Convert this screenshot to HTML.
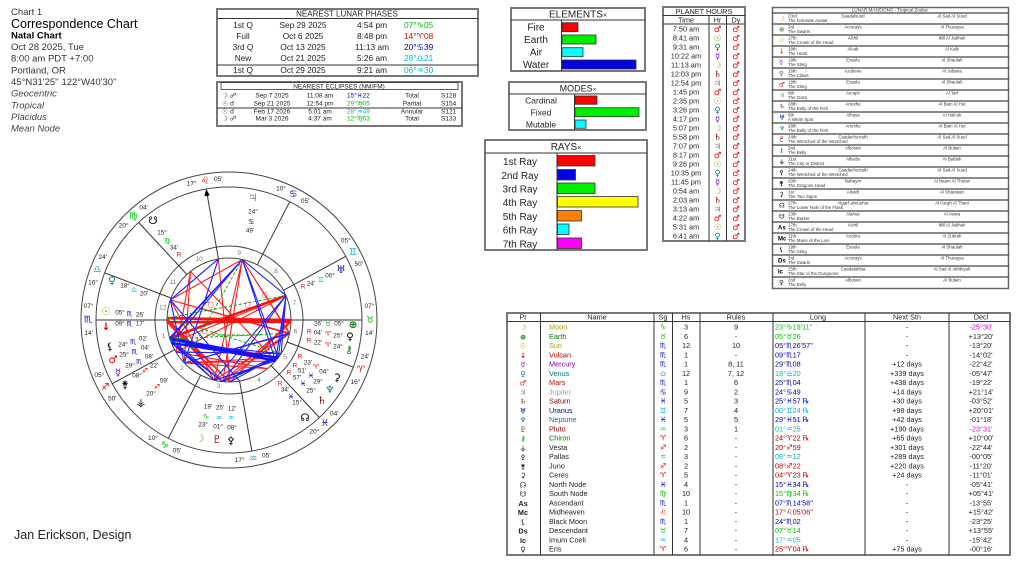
<!DOCTYPE html>
<html><head><meta charset="utf-8"><style>
html,body{margin:0;padding:0;background:#fff;}
svg{display:block;}
.g{font-family:"DejaVu Sans",sans-serif;}
</style></head><body>
<svg width="1024" height="562" viewBox="0 0 1024 562" xmlns="http://www.w3.org/2000/svg" font-family="Liberation Sans, DejaVu Sans, sans-serif">
<rect width="1024" height="562" fill="#fff"/>

<!-- Header -->
<g fill="#333" font-size="9.5">
<text x="11" y="15">Chart 1</text>
<text x="11" y="28" font-size="12.5" fill="#000">Correspondence Chart</text>
<text x="11" y="38.5" font-weight="bold" fill="#000">Natal Chart</text>
<text x="11" y="50">Oct 28 2025, Tue</text>
<text x="11" y="61.6">8:00 am  PDT +7:00</text>
<text x="11" y="73.3">Portland, OR</text>
<text x="11" y="85">45°N31'25'' 122°W40'30''</text>
<g font-style="italic" fill="#444">
<text x="11" y="96.3">Geocentric</text>
<text x="11" y="108.3">Tropical</text>
<text x="11" y="119.8">Placidus</text>
<text x="11" y="131.3">Mean Node</text>
</g>
</g>
<text x="14" y="539" font-size="12.5" fill="#222">Jan Erickson, Design</text>

<!-- Lunar phases -->
<rect x="217" y="9" width="261" height="67" fill="none" stroke="#777" stroke-width="2"/>
<line x1="217" y1="18.5" x2="478" y2="18.5" stroke="#333"/>
<line x1="217" y1="65" x2="478" y2="65" stroke="#333"/>
<text x="347" y="16.5" font-size="8" text-anchor="middle" fill="#222">NEAREST LUNAR PHASES</text>
<g font-size="8.3" fill="#222">
<g text-anchor="middle">
<text x="243" y="28">1st Q</text><text x="303" y="28">Sep 29 2025</text><text x="372" y="28">4:54 pm</text>
<text x="243" y="39">Full</text><text x="303" y="39">Oct 6 2025</text><text x="372" y="39">8:48 pm</text>
<text x="243" y="50">3rd Q</text><text x="303" y="50">Oct 13 2025</text><text x="372" y="50">11:13 am</text>
<text x="243" y="61">New</text><text x="303" y="61">Oct 21 2025</text><text x="372" y="61">5:26 am</text>
<text x="243" y="73">1st Q</text><text x="303" y="73">Oct 29 2025</text><text x="372" y="73">9:21 am</text>
</g>
<text x="404" y="28" fill="#00c000">07°♑05</text>
<text x="404" y="39" fill="#e00000">14°♈08</text>
<text x="404" y="50" fill="#0000c0">20°♋39</text>
<text x="404" y="61" fill="#00b8c8">28°♎21</text>
<text x="404" y="73" fill="#00b8c8">06°♒30</text>
</g>

<!-- Eclipses -->
<rect x="217" y="82" width="245" height="44" fill="none" stroke="#777" stroke-width="2"/>
<rect x="221" y="82.5" width="237" height="7" fill="none" stroke="#333" stroke-width="0.8"/>
<line x1="217" y1="108" x2="462" y2="108" stroke="#333"/>
<text x="339" y="88.5" font-size="6.5" text-anchor="middle" fill="#222">NEAREST ECLIPSES (NM/FM)</text>
<g font-size="6.5" fill="#222">
<g class="g" font-size="6.5"><text x="222" y="97.3">☽ ☍</text><text x="222" y="105.3">☉ ☌</text><text x="222" y="113.3">☉ ☌</text><text x="222" y="120.3">☽ ☍</text></g>
<g text-anchor="middle">
<text x="272" y="97.3">Sep 7 2025</text><text x="320" y="97.3">11:08 am</text><text x="412" y="97.3">Total</text>
<text x="272" y="105.3">Sep 21 2025</text><text x="320" y="105.3">12:54 pm</text><text x="412" y="105.3">Partial</text>
<text x="272" y="113.3">Feb 17 2026</text><text x="320" y="113.3">5:01 am</text><text x="412" y="113.3">Annular</text>
<text x="272" y="120.3">Mar 3 2026</text><text x="320" y="120.3">4:37 am</text><text x="412" y="120.3">Total</text>
</g>
<text x="347" y="97.3" fill="#0000c0">15°♓22</text>
<text x="347" y="105.3" fill="#00c000">29°♍05</text>
<text x="347" y="113.3" fill="#00b8c8">28°♒49</text>
<text x="347" y="120.3" fill="#00c000">12°♍53</text>
<text x="441" y="97.3">S128</text><text x="441" y="105.3">S154</text><text x="441" y="113.3">S121</text><text x="441" y="120.3">S133</text>
</g>

<!-- Elements -->
<rect x="511" y="8" width="134" height="63" fill="none" stroke="#777" stroke-width="2"/>
<line x1="511" y1="20" x2="645" y2="20" stroke="#333"/>
<line x1="561.5" y1="20" x2="561.5" y2="71" stroke="#333"/>
<text x="578" y="17.5" font-size="10" text-anchor="middle" fill="#222">ELEMENTS<tspan font-size="7">×</tspan></text>
<g font-size="10" fill="#222" text-anchor="middle">
<text x="536" y="30.5">Fire</text><text x="536" y="43">Earth</text><text x="536" y="55.5">Air</text><text x="536" y="68">Water</text>
</g>
<g stroke="#333" stroke-width="0.8">
<rect x="562" y="22.7" width="16" height="9" fill="#ff0000"/>
<rect x="562" y="35" width="34" height="9" fill="#00ee00"/>
<rect x="562" y="47.7" width="21" height="9" fill="#00ffff"/>
<rect x="562" y="60" width="74" height="9" fill="#0000e0"/>
</g>

<!-- Modes -->
<rect x="509" y="82" width="137" height="48" fill="none" stroke="#777" stroke-width="2"/>
<line x1="509" y1="94" x2="646" y2="94" stroke="#333"/>
<line x1="574.5" y1="94" x2="574.5" y2="130" stroke="#333"/>
<text x="578" y="91.5" font-size="9" text-anchor="middle" fill="#222">MODES<tspan font-size="6.5">×</tspan></text>
<g font-size="8.5" fill="#222" text-anchor="middle">
<text x="541" y="103.5">Cardinal</text><text x="541" y="115.5">Fixed</text><text x="541" y="127.3">Mutable</text>
</g>
<g stroke="#333" stroke-width="0.8">
<rect x="575" y="96" width="22" height="8.3" fill="#ff0000"/>
<rect x="575" y="107.7" width="64" height="9" fill="#00ee00"/>
<rect x="575" y="120" width="11" height="8.3" fill="#00ffff"/>
</g>

<!-- Rays -->
<rect x="485" y="140" width="162" height="110" fill="none" stroke="#777" stroke-width="2"/>
<line x1="485" y1="153" x2="647" y2="153" stroke="#333"/>
<line x1="557" y1="153" x2="557" y2="250" stroke="#333"/>
<text x="566" y="150" font-size="10" text-anchor="middle" fill="#222">RAYS<tspan font-size="7">×</tspan></text>
<g font-size="10" fill="#222" text-anchor="middle">
<text x="520" y="165">1st Ray</text><text x="520" y="179">2nd Ray</text><text x="520" y="192.5">3rd Ray</text>
<text x="520" y="206">4th Ray</text><text x="520" y="220">5th Ray</text><text x="520" y="233.5">6th Ray</text><text x="520" y="247.3">7th Ray</text>
</g>
<g stroke="#333" stroke-width="0.8">
<rect x="557.5" y="155.5" width="37.5" height="10.5" fill="#ff0000"/>
<rect x="557.5" y="169.5" width="18" height="10.5" fill="#0000e0"/>
<rect x="557.5" y="183" width="37.5" height="10.5" fill="#00ee00"/>
<rect x="557.5" y="196.5" width="80.5" height="10.5" fill="#ffff00"/>
<rect x="557.5" y="210.5" width="24" height="10.5" fill="#ff8000"/>
<rect x="557.5" y="224" width="11.5" height="10.5" fill="#00ffff"/>
<rect x="557.5" y="238" width="24" height="10.5" fill="#ff00ff"/>
</g>

<!-- Planet hours -->
<rect x="663" y="7" width="82" height="234" fill="none" stroke="#777" stroke-width="2"/>
<line x1="663" y1="15.5" x2="745" y2="15.5" stroke="#333"/>
<line x1="663" y1="24" x2="745" y2="24" stroke="#333"/>
<line x1="709" y1="15.5" x2="709" y2="241" stroke="#333"/>
<line x1="726.5" y1="15.5" x2="726.5" y2="241" stroke="#333"/>
<text x="704" y="13.8" font-size="7.3" text-anchor="middle" fill="#222">PLANET HOURS</text>
<g font-size="7.3" fill="#222" text-anchor="middle">
<text x="686" y="22.3">Time</text><text x="717.5" y="22.3">Hr</text><text x="736" y="22.3">Dy</text>
</g>
<g font-size="7.3" fill="#222" text-anchor="middle">
<text x="686" y="31.7">7:50 am</text><text x="686" y="40.7">8:41 am</text><text x="686" y="49.7">9:31 am</text>
<text x="686" y="58.7">10:22 am</text><text x="686" y="67.7">11:13 am</text><text x="686" y="76.7">12:03 pm</text>
<text x="686" y="85.7">12:54 pm</text><text x="686" y="94.7">1:45 pm</text><text x="686" y="103.7">2:35 pm</text>
<text x="686" y="112.7">3:26 pm</text><text x="686" y="121.7">4:17 pm</text><text x="686" y="130.7">5:07 pm</text>
<text x="686" y="139.7">5:58 pm</text><text x="686" y="148.7">7:07 pm</text><text x="686" y="157.7">8:17 pm</text>
<text x="686" y="166.7">9:26 pm</text><text x="686" y="175.7">10:35 pm</text><text x="686" y="184.7">11:45 pm</text>
<text x="686" y="193.7">0:54 am</text><text x="686" y="202.7">2:03 am</text><text x="686" y="211.7">3:13 am</text>
<text x="686" y="220.7">4:22 am</text><text x="686" y="229.7">5:31 am</text><text x="686" y="238.7">6:41 am</text>
</g>
<g class="g" font-size="8.5" text-anchor="middle" font-weight="bold">
<text x="717.5" y="32" fill="#e00000">♂</text><text x="717.5" y="41" fill="#a8a000">☉</text><text x="717.5" y="50" fill="#008080">♀</text>
<text x="717.5" y="59" fill="#8000c0">☿</text><text x="717.5" y="68" fill="#a8a000">☽</text><text x="717.5" y="77" fill="#800000">♄</text>
<text x="717.5" y="86" fill="#888">♃</text><text x="717.5" y="95" fill="#e00000">♂</text><text x="717.5" y="104" fill="#a8a000">☉</text>
<text x="717.5" y="113" fill="#008080">♀</text><text x="717.5" y="122" fill="#8000c0">☿</text><text x="717.5" y="131" fill="#a8a000">☽</text>
<text x="717.5" y="140" fill="#800000">♄</text><text x="717.5" y="149" fill="#888">♃</text><text x="717.5" y="158" fill="#e00000">♂</text>
<text x="717.5" y="167" fill="#a8a000">☉</text><text x="717.5" y="176" fill="#008080">♀</text><text x="717.5" y="185" fill="#8000c0">☿</text>
<text x="717.5" y="194" fill="#a8a000">☽</text><text x="717.5" y="203" fill="#800000">♄</text><text x="717.5" y="212" fill="#888">♃</text>
<text x="717.5" y="221" fill="#e00000">♂</text><text x="717.5" y="230" fill="#a8a000">☉</text><text x="717.5" y="239" fill="#008080">♀</text>
</g>
<g class="g" font-size="8.5" text-anchor="middle" fill="#e00000" font-weight="bold">
<text x="736" y="32">♂</text><text x="736" y="41">♂</text><text x="736" y="50">♂</text><text x="736" y="59">♂</text>
<text x="736" y="68">♂</text><text x="736" y="77">♂</text><text x="736" y="86">♂</text><text x="736" y="95">♂</text>
<text x="736" y="104">♂</text><text x="736" y="113">♂</text><text x="736" y="122">♂</text><text x="736" y="131">♂</text>
<text x="736" y="140">♂</text><text x="736" y="149">♂</text><text x="736" y="158">♂</text><text x="736" y="167">♂</text>
<text x="736" y="176">♂</text><text x="736" y="185">♂</text><text x="736" y="194">♂</text><text x="736" y="203">♂</text>
<text x="736" y="212">♂</text><text x="736" y="221">♂</text><text x="736" y="230">♂</text><text x="736" y="239">♂</text>
</g>

<!-- Lunar mansions -->
<rect x="772.5" y="7.5" width="236" height="281" fill="none" stroke="#666" stroke-width="1.5"/>
<line x1="772" y1="13" x2="1009" y2="13" stroke="#444" stroke-width="1.2"/>
<text x="890" y="11.7" font-size="4.6" text-anchor="middle" fill="#333">LUNAR MANSIONS - Tropical Zodiac</text>
<g font-size="4.4" fill="#333">
<g transform="translate(0,13)"><text class="g" x="779" y="7.5" font-size="6.5" fill="#a8a000">☽</text><text x="788" y="4.6">23rd</text><text x="853" y="4.6" text-anchor="middle">Saadalsuud</text><text x="952" y="4.6" text-anchor="middle">Al Sad Al Suud</text><text x="788" y="9.2">The fortunate Avatar</text></g>
<g transform="translate(0,24)"><text class="g" x="779" y="7.5" font-size="6.5" fill="#008000">⊕</text><text x="788" y="4.6">3rd</text><text x="853" y="4.6" text-anchor="middle">Acrorays</text><text x="952" y="4.6" text-anchor="middle">Al Thurayya</text><text x="788" y="9.2">The Swarm</text></g>
<g transform="translate(0,35)"><text class="g" x="779" y="7.5" font-size="6.5" fill="#a8a000">☉</text><text x="788" y="4.6">17th</text><text x="853" y="4.6" text-anchor="middle">Alchil</text><text x="952" y="4.6" text-anchor="middle">Iklil Al Jabhah</text><text x="788" y="9.2">The Crown of the Head</text></g>
<g transform="translate(0,46)"><text class="g" x="779" y="7.5" font-size="6.5" fill="#e00000">↓</text><text x="788" y="4.6">18th</text><text x="853" y="4.6" text-anchor="middle">Alcab</text><text x="952" y="4.6" text-anchor="middle">Al Kalb</text><text x="788" y="9.2">The Heart</text></g>
<g transform="translate(0,57)"><text class="g" x="779" y="7.5" font-size="6.5" fill="#8000c0">☿</text><text x="788" y="4.6">19th</text><text x="853" y="4.6" text-anchor="middle">Exaula</text><text x="952" y="4.6" text-anchor="middle">Al Shaulah</text><text x="788" y="9.2">The Sting</text></g>
<g transform="translate(0,68)"><text class="g" x="779" y="7.5" font-size="6.5" fill="#008080">♀</text><text x="788" y="4.6">16th</text><text x="853" y="4.6" text-anchor="middle">Azubene</text><text x="952" y="4.6" text-anchor="middle">Al Jubana</text><text x="788" y="9.2">The Claws</text></g>
<g transform="translate(0,79)"><text class="g" x="779" y="7.5" font-size="6.5" fill="#e00000">♂</text><text x="788" y="4.6">19th</text><text x="853" y="4.6" text-anchor="middle">Exaula</text><text x="952" y="4.6" text-anchor="middle">Al Shaulah</text><text x="788" y="9.2">The Sting</text></g>
<g transform="translate(0,90)"><text class="g" x="779" y="7.5" font-size="6.5" fill="#888">♃</text><text x="788" y="4.6">9th</text><text x="853" y="4.6" text-anchor="middle">Arcaph</text><text x="952" y="4.6" text-anchor="middle">Al Tarf</text><text x="788" y="9.2">The Gaze</text></g>
<g transform="translate(0,101)"><text class="g" x="779" y="7.5" font-size="6.5" fill="#800000">♄</text><text x="788" y="4.6">28th</text><text x="853" y="4.6" text-anchor="middle">Arrexhe</text><text x="952" y="4.6" text-anchor="middle">Al Batn Al Hut</text><text x="788" y="9.2">The Belly of the Fish</text></g>
<g transform="translate(0,112)"><text class="g" x="779" y="7.5" font-size="6.5" fill="#0000a0">♅</text><text x="788" y="4.6">5th</text><text x="853" y="4.6" text-anchor="middle">Alhaya</text><text x="952" y="4.6" text-anchor="middle">Al Hak'ah</text><text x="788" y="9.2">A White Spot</text></g>
<g transform="translate(0,123)"><text class="g" x="779" y="7.5" font-size="6.5" fill="#008080">♆</text><text x="788" y="4.6">28th</text><text x="853" y="4.6" text-anchor="middle">Arrexhe</text><text x="952" y="4.6" text-anchor="middle">Al Batn Al Hut</text><text x="788" y="9.2">The Belly of the Fish</text></g>
<g transform="translate(0,134)"><text class="g" x="779" y="7.5" font-size="6.5" fill="#800000">♇</text><text x="788" y="4.6">24th</text><text x="853" y="4.6" text-anchor="middle">Caadachoziath</text><text x="952" y="4.6" text-anchor="middle">Al Sad Al Suud</text><text x="788" y="9.2">The Wretched of the Wretched</text></g>
<g transform="translate(0,145)"><text class="g" x="779" y="7.5" font-size="6.5" fill="#008000">⚷</text><text x="788" y="4.6">2nd</text><text x="853" y="4.6" text-anchor="middle">Albotain</text><text x="952" y="4.6" text-anchor="middle">Al Butain</text><text x="788" y="9.2">The Belly</text></g>
<g transform="translate(0,156)"><text class="g" x="779" y="7.5" font-size="6.5" fill="#000">⚶</text><text x="788" y="4.6">21st</text><text x="853" y="4.6" text-anchor="middle">Albeda</text><text x="952" y="4.6" text-anchor="middle">Al Baldah</text><text x="788" y="9.2">The City or District</text></g>
<g transform="translate(0,167)"><text class="g" x="779" y="7.5" font-size="6.5" fill="#000">⚴</text><text x="788" y="4.6">24th</text><text x="853" y="4.6" text-anchor="middle">Caadachoziath</text><text x="952" y="4.6" text-anchor="middle">Al Sad Al Suud</text><text x="788" y="9.2">The Wretched of the Wretched</text></g>
<g transform="translate(0,178)"><text class="g" x="779" y="7.5" font-size="6.5" fill="#000">⚵</text><text x="788" y="4.6">20th</text><text x="853" y="4.6" text-anchor="middle">Nahaym</text><text x="952" y="4.6" text-anchor="middle">Al Naam Al Thulan</text><text x="788" y="9.2">The Dragons Head</text></g>
<g transform="translate(0,189)"><text class="g" x="779" y="7.5" font-size="6.5" fill="#000">⚳</text><text x="788" y="4.6">1st</text><text x="853" y="4.6" text-anchor="middle">Alnath</text><text x="952" y="4.6" text-anchor="middle">Al Sharatain</text><text x="788" y="9.2">The Two Signs</text></g>
<g transform="translate(0,200)"><text class="g" x="779" y="7.5" font-size="6.5" fill="#000">☊</text><text x="788" y="4.6">27th</text><text x="853" y="4.6" text-anchor="middle">Algarf almuehar</text><text x="952" y="4.6" text-anchor="middle">Al Fargh Al Thani</text><text x="788" y="9.2">The Lower Hole of the Flask</text></g>
<g transform="translate(0,211)"><text class="g" x="779" y="7.5" font-size="6.5" fill="#000">☋</text><text x="788" y="4.6">13th</text><text x="853" y="4.6" text-anchor="middle">Alahue</text><text x="952" y="4.6" text-anchor="middle">Al Awwa</text><text x="788" y="9.2">The Barker</text></g>
<g transform="translate(0,222)"><text x="778" y="7.5" font-size="6" font-weight="bold" fill="#000">As</text><text x="788" y="4.6">17th</text><text x="853" y="4.6" text-anchor="middle">Alchil</text><text x="952" y="4.6" text-anchor="middle">Iklil Al Jabhah</text><text x="788" y="9.2">The Crown of the Head</text></g>
<g transform="translate(0,233)"><text x="778" y="7.5" font-size="6" font-weight="bold" fill="#000">Mc</text><text x="788" y="4.6">11th</text><text x="853" y="4.6" text-anchor="middle">Azobra</text><text x="952" y="4.6" text-anchor="middle">Al Zubrah</text><text x="788" y="9.2">The Mane of the Lion</text></g>
<g transform="translate(0,244)"><text class="g" x="779" y="7.5" font-size="6.5" fill="#000">⚸</text><text x="788" y="4.6">19th</text><text x="853" y="4.6" text-anchor="middle">Exaula</text><text x="952" y="4.6" text-anchor="middle">Al Shaulah</text><text x="788" y="9.2">The Sting</text></g>
<g transform="translate(0,255)"><text x="778" y="7.5" font-size="6" font-weight="bold" fill="#000">Ds</text><text x="788" y="4.6">3rd</text><text x="853" y="4.6" text-anchor="middle">Acrorays</text><text x="952" y="4.6" text-anchor="middle">Al Thurayya</text><text x="788" y="9.2">The Swarm</text></g>
<g transform="translate(0,266)"><text x="778" y="7.5" font-size="6" font-weight="bold" fill="#000">Ic</text><text x="788" y="4.6">25th</text><text x="853" y="4.6" text-anchor="middle">Caadalahbia</text><text x="952" y="4.6" text-anchor="middle">Al Sad Al Akhbiyah</text><text x="788" y="9.2">The Star of the Dungeons</text></g>
<g transform="translate(0,277)"><text class="g" x="779" y="7.5" font-size="6.5" fill="#000">♀</text><text x="788" y="4.6">2nd</text><text x="853" y="4.6" text-anchor="middle">Albotain</text><text x="952" y="4.6" text-anchor="middle">Al Butain</text><text x="788" y="9.2">The Belly</text></g>
</g>
<g stroke="#444" stroke-width="1.3">
<line x1="772" y1="24" x2="1009" y2="24"/><line x1="772" y1="35" x2="1009" y2="35"/><line x1="772" y1="46" x2="1009" y2="46"/>
<line x1="772" y1="57" x2="1009" y2="57"/><line x1="772" y1="68" x2="1009" y2="68"/><line x1="772" y1="79" x2="1009" y2="79"/>
<line x1="772" y1="90" x2="1009" y2="90"/><line x1="772" y1="101" x2="1009" y2="101"/><line x1="772" y1="112" x2="1009" y2="112"/>
<line x1="772" y1="123" x2="1009" y2="123"/><line x1="772" y1="134" x2="1009" y2="134"/><line x1="772" y1="145" x2="1009" y2="145"/>
<line x1="772" y1="156" x2="1009" y2="156"/><line x1="772" y1="167" x2="1009" y2="167"/><line x1="772" y1="178" x2="1009" y2="178"/>
<line x1="772" y1="189" x2="1009" y2="189"/><line x1="772" y1="200" x2="1009" y2="200"/><line x1="772" y1="211" x2="1009" y2="211"/>
<line x1="772" y1="222" x2="1009" y2="222"/><line x1="772" y1="233" x2="1009" y2="233"/><line x1="772" y1="244" x2="1009" y2="244"/>
<line x1="772" y1="255" x2="1009" y2="255"/><line x1="772" y1="266" x2="1009" y2="266"/><line x1="772" y1="277" x2="1009" y2="277"/>
</g>

<!-- Bottom table -->
<rect x="507" y="313" width="503" height="242" fill="none" stroke="#777" stroke-width="2"/>
<line x1="507" y1="321.5" x2="1010" y2="321.5" stroke="#333"/>
<g stroke="#333" stroke-width="1">
<line x1="540.5" y1="313" x2="540.5" y2="555"/><line x1="654" y1="313" x2="654" y2="555"/>
<line x1="672.5" y1="313" x2="672.5" y2="555"/><line x1="700" y1="313" x2="700" y2="555"/>
<line x1="773" y1="313" x2="773" y2="555"/><line x1="865" y1="313" x2="865" y2="555"/>
<line x1="949" y1="313" x2="949" y2="555"/>
</g>
<g font-size="7.3" fill="#222" text-anchor="middle">
<text x="523" y="319.5">Pr</text><text x="597" y="319.5">Name</text><text x="663" y="319.5">Sg</text><text x="686" y="319.5">Hs</text>
<text x="736" y="319.5">Rules</text><text x="818" y="319.5">Long</text><text x="907" y="319.5">Next Stn</text><text x="981" y="319.5">Decl</text>
</g>
<g font-size="7.3" fill="#222">
<g transform="translate(0,327)"><text class="g" x="523" y="3" text-anchor="middle" font-weight="bold" fill="#a8a000">☽</text><text x="549" y="2.7" fill="#a8a000">Moon</text><text class="g" x="663" y="2.7" text-anchor="middle" fill="#00c000">♑</text><text x="686" y="2.7" text-anchor="middle">3</text><text x="736" y="2.7" text-anchor="middle">9</text><text x="775" y="2.7" fill="#00c000">23°♑19'11"</text><text x="907" y="2.7" text-anchor="middle">-</text><text x="981" y="2.7" text-anchor="middle" fill="#e000e0">-25°30'</text></g>
<g transform="translate(0,336.25)"><text class="g" x="523" y="3" text-anchor="middle" font-weight="bold" fill="#008000">⊕</text><text x="549" y="2.7" fill="#008000">Earth</text><text class="g" x="663" y="2.7" text-anchor="middle" fill="#00c000">♉</text><text x="686" y="2.7" text-anchor="middle">6</text><text x="736" y="2.7" text-anchor="middle">-</text><text x="775" y="2.7" fill="#00c000">05°♉26</text><text x="907" y="2.7" text-anchor="middle">-</text><text x="981" y="2.7" text-anchor="middle">+13°20'</text></g>
<g transform="translate(0,345.5)"><text class="g" x="523" y="3" text-anchor="middle" font-weight="bold" fill="#a8a000">☉</text><text x="549" y="2.7" fill="#a8a000">Sun</text><text class="g" x="663" y="2.7" text-anchor="middle" fill="#0000c0">♏</text><text x="686" y="2.7" text-anchor="middle">12</text><text x="736" y="2.7" text-anchor="middle">10</text><text x="775" y="2.7" fill="#0000c0">05°♏26'57"</text><text x="907" y="2.7" text-anchor="middle">-</text><text x="981" y="2.7" text-anchor="middle">-13°20'</text></g>
<g transform="translate(0,354.75)"><text class="g" x="523" y="3" text-anchor="middle" font-weight="bold" fill="#e00000">↓</text><text x="549" y="2.7" fill="#c00000">Vulcan</text><text class="g" x="663" y="2.7" text-anchor="middle" fill="#0000c0">♏</text><text x="686" y="2.7" text-anchor="middle">1</text><text x="736" y="2.7" text-anchor="middle">-</text><text x="775" y="2.7" fill="#0000c0">09°♏17</text><text x="907" y="2.7" text-anchor="middle">-</text><text x="981" y="2.7" text-anchor="middle">-14°02'</text></g>
<g transform="translate(0,364)"><text class="g" x="523" y="3" text-anchor="middle" font-weight="bold" fill="#8000c0">☿</text><text x="549" y="2.7" fill="#8000c0">Mercury</text><text class="g" x="663" y="2.7" text-anchor="middle" fill="#0000c0">♏</text><text x="686" y="2.7" text-anchor="middle">1</text><text x="736" y="2.7" text-anchor="middle">8, 11</text><text x="775" y="2.7" fill="#0000c0">29°♏08</text><text x="907" y="2.7" text-anchor="middle">+12 days</text><text x="981" y="2.7" text-anchor="middle">-22°42'</text></g>
<g transform="translate(0,373.25)"><text class="g" x="523" y="3" text-anchor="middle" font-weight="bold" fill="#008080">♀</text><text x="549" y="2.7" fill="#008080">Venus</text><text class="g" x="663" y="2.7" text-anchor="middle" fill="#00b8c8">♎</text><text x="686" y="2.7" text-anchor="middle">12</text><text x="736" y="2.7" text-anchor="middle">7, 12</text><text x="775" y="2.7" fill="#00b8c8">18°♎20</text><text x="907" y="2.7" text-anchor="middle">+339 days</text><text x="981" y="2.7" text-anchor="middle">-05°47'</text></g>
<g transform="translate(0,382.5)"><text class="g" x="523" y="3" text-anchor="middle" font-weight="bold" fill="#e00000">♂</text><text x="549" y="2.7" fill="#c00000">Mars</text><text class="g" x="663" y="2.7" text-anchor="middle" fill="#0000c0">♏</text><text x="686" y="2.7" text-anchor="middle">1</text><text x="736" y="2.7" text-anchor="middle">6</text><text x="775" y="2.7" fill="#0000c0">25°♏04</text><text x="907" y="2.7" text-anchor="middle">+438 days</text><text x="981" y="2.7" text-anchor="middle">-19°22'</text></g>
<g transform="translate(0,391.75)"><text class="g" x="523" y="3" text-anchor="middle" font-weight="bold" fill="#888">♃</text><text x="549" y="2.7" fill="#999">Jupiter</text><text class="g" x="663" y="2.7" text-anchor="middle" fill="#0000c0">♋</text><text x="686" y="2.7" text-anchor="middle">9</text><text x="736" y="2.7" text-anchor="middle">2</text><text x="775" y="2.7" fill="#0000c0">24°♋49</text><text x="907" y="2.7" text-anchor="middle">+14 days</text><text x="981" y="2.7" text-anchor="middle">+21°14'</text></g>
<g transform="translate(0,401)"><text class="g" x="523" y="3" text-anchor="middle" font-weight="bold" fill="#800000">♄</text><text x="549" y="2.7" fill="#800000">Saturn</text><text class="g" x="663" y="2.7" text-anchor="middle" fill="#0000c0">♓</text><text x="686" y="2.7" text-anchor="middle">5</text><text x="736" y="2.7" text-anchor="middle">3</text><text x="775" y="2.7" fill="#0000c0">25°♓57 ℞</text><text x="907" y="2.7" text-anchor="middle">+30 days</text><text x="981" y="2.7" text-anchor="middle">-03°52'</text></g>
<g transform="translate(0,410.25)"><text class="g" x="523" y="3" text-anchor="middle" font-weight="bold" fill="#0000a0">♅</text><text x="549" y="2.7" fill="#0000a0">Uranus</text><text class="g" x="663" y="2.7" text-anchor="middle" fill="#00b8c8">♊</text><text x="686" y="2.7" text-anchor="middle">7</text><text x="736" y="2.7" text-anchor="middle">4</text><text x="775" y="2.7" fill="#00b8c8">00°♊24 ℞</text><text x="907" y="2.7" text-anchor="middle">+98 days</text><text x="981" y="2.7" text-anchor="middle">+20°01'</text></g>
<g transform="translate(0,419.5)"><text class="g" x="523" y="3" text-anchor="middle" font-weight="bold" fill="#008080">♆</text><text x="549" y="2.7" fill="#008080">Neptune</text><text class="g" x="663" y="2.7" text-anchor="middle" fill="#0000c0">♓</text><text x="686" y="2.7" text-anchor="middle">5</text><text x="736" y="2.7" text-anchor="middle">5</text><text x="775" y="2.7" fill="#0000c0">29°♓51 ℞</text><text x="907" y="2.7" text-anchor="middle">+42 days</text><text x="981" y="2.7" text-anchor="middle">-01°18'</text></g>
<g transform="translate(0,428.75)"><text class="g" x="523" y="3" text-anchor="middle" font-weight="bold" fill="#800000">♇</text><text x="549" y="2.7" fill="#800000">Pluto</text><text class="g" x="663" y="2.7" text-anchor="middle" fill="#00b8c8">♒</text><text x="686" y="2.7" text-anchor="middle">3</text><text x="736" y="2.7" text-anchor="middle">1</text><text x="775" y="2.7" fill="#00b8c8">01°♒25</text><text x="907" y="2.7" text-anchor="middle">+190 days</text><text x="981" y="2.7" text-anchor="middle" fill="#e000e0">-23°31'</text></g>
<g transform="translate(0,438)"><text class="g" x="523" y="3" text-anchor="middle" font-weight="bold" fill="#008000">⚷</text><text x="549" y="2.7" fill="#008000">Chiron</text><text class="g" x="663" y="2.7" text-anchor="middle" fill="#e00000">♈</text><text x="686" y="2.7" text-anchor="middle">6</text><text x="736" y="2.7" text-anchor="middle">-</text><text x="775" y="2.7" fill="#c00000">24°♈22 ℞</text><text x="907" y="2.7" text-anchor="middle">+65 days</text><text x="981" y="2.7" text-anchor="middle">+10°00'</text></g>
<g transform="translate(0,447.25)"><text class="g" x="523" y="3" text-anchor="middle" font-weight="bold">⚶</text><text x="549" y="2.7">Vesta</text><text class="g" x="663" y="2.7" text-anchor="middle" fill="#e00000">♐</text><text x="686" y="2.7" text-anchor="middle">2</text><text x="736" y="2.7" text-anchor="middle">-</text><text x="775" y="2.7" fill="#c00000">20°♐59</text><text x="907" y="2.7" text-anchor="middle">+301 days</text><text x="981" y="2.7" text-anchor="middle">-22°44'</text></g>
<g transform="translate(0,456.5)"><text class="g" x="523" y="3" text-anchor="middle" font-weight="bold">⚴</text><text x="549" y="2.7">Pallas</text><text class="g" x="663" y="2.7" text-anchor="middle" fill="#00b8c8">♒</text><text x="686" y="2.7" text-anchor="middle">3</text><text x="736" y="2.7" text-anchor="middle">-</text><text x="775" y="2.7" fill="#00b8c8">08°♒12</text><text x="907" y="2.7" text-anchor="middle">+289 days</text><text x="981" y="2.7" text-anchor="middle">-00°05'</text></g>
<g transform="translate(0,465.75)"><text class="g" x="523" y="3" text-anchor="middle" font-weight="bold">⚵</text><text x="549" y="2.7">Juno</text><text class="g" x="663" y="2.7" text-anchor="middle" fill="#e00000">♐</text><text x="686" y="2.7" text-anchor="middle">2</text><text x="736" y="2.7" text-anchor="middle">-</text><text x="775" y="2.7" fill="#c00000">08°♐22</text><text x="907" y="2.7" text-anchor="middle">+220 days</text><text x="981" y="2.7" text-anchor="middle">-11°20'</text></g>
<g transform="translate(0,475)"><text class="g" x="523" y="3" text-anchor="middle" font-weight="bold">⚳</text><text x="549" y="2.7">Ceres</text><text class="g" x="663" y="2.7" text-anchor="middle" fill="#e00000">♈</text><text x="686" y="2.7" text-anchor="middle">5</text><text x="736" y="2.7" text-anchor="middle">-</text><text x="775" y="2.7" fill="#c00000">04°♈23 ℞</text><text x="907" y="2.7" text-anchor="middle">+24 days</text><text x="981" y="2.7" text-anchor="middle">-11°01'</text></g>
<g transform="translate(0,484.25)"><text class="g" x="523" y="3" text-anchor="middle" font-weight="bold">☊</text><text x="549" y="2.7">North Node</text><text class="g" x="663" y="2.7" text-anchor="middle" fill="#0000c0">♓</text><text x="686" y="2.7" text-anchor="middle">4</text><text x="736" y="2.7" text-anchor="middle">-</text><text x="775" y="2.7" fill="#0000c0">15°♓34 ℞</text><text x="907" y="2.7" text-anchor="middle">-</text><text x="981" y="2.7" text-anchor="middle">-05°41'</text></g>
<g transform="translate(0,493.5)"><text class="g" x="523" y="3" text-anchor="middle" font-weight="bold">☋</text><text x="549" y="2.7">South Node</text><text class="g" x="663" y="2.7" text-anchor="middle" fill="#00c000">♍</text><text x="686" y="2.7" text-anchor="middle">10</text><text x="736" y="2.7" text-anchor="middle">-</text><text x="775" y="2.7" fill="#00c000">15°♍34 ℞</text><text x="907" y="2.7" text-anchor="middle">-</text><text x="981" y="2.7" text-anchor="middle">+05°41'</text></g>
<g transform="translate(0,502.75)"><text x="523" y="3" text-anchor="middle" font-weight="bold">As</text><text x="549" y="2.7">Ascendant</text><text class="g" x="663" y="2.7" text-anchor="middle" fill="#0000c0">♏</text><text x="686" y="2.7" text-anchor="middle">1</text><text x="736" y="2.7" text-anchor="middle">-</text><text x="775" y="2.7" fill="#0000c0">07°♏14'58"</text><text x="907" y="2.7" text-anchor="middle">-</text><text x="981" y="2.7" text-anchor="middle">-13°55'</text></g>
<g transform="translate(0,512)"><text x="523" y="3" text-anchor="middle" font-weight="bold">Mc</text><text x="549" y="2.7">Midheaven</text><text class="g" x="663" y="2.7" text-anchor="middle" fill="#e00000">♌</text><text x="686" y="2.7" text-anchor="middle">10</text><text x="736" y="2.7" text-anchor="middle">-</text><text x="775" y="2.7" fill="#c00000">17°♌05'06"</text><text x="907" y="2.7" text-anchor="middle">-</text><text x="981" y="2.7" text-anchor="middle">+15°42'</text></g>
<g transform="translate(0,521.25)"><text class="g" x="523" y="3" text-anchor="middle" font-weight="bold">⚸</text><text x="549" y="2.7">Black Moon</text><text class="g" x="663" y="2.7" text-anchor="middle" fill="#0000c0">♏</text><text x="686" y="2.7" text-anchor="middle">1</text><text x="736" y="2.7" text-anchor="middle">-</text><text x="775" y="2.7" fill="#0000c0">24°♏02</text><text x="907" y="2.7" text-anchor="middle">-</text><text x="981" y="2.7" text-anchor="middle">-23°25'</text></g>
<g transform="translate(0,530.5)"><text x="523" y="3" text-anchor="middle" font-weight="bold">Ds</text><text x="549" y="2.7">Descendant</text><text class="g" x="663" y="2.7" text-anchor="middle" fill="#00c000">♉</text><text x="686" y="2.7" text-anchor="middle">7</text><text x="736" y="2.7" text-anchor="middle">-</text><text x="775" y="2.7" fill="#00c000">07°♉14</text><text x="907" y="2.7" text-anchor="middle">-</text><text x="981" y="2.7" text-anchor="middle">+13°55'</text></g>
<g transform="translate(0,539.75)"><text x="523" y="3" text-anchor="middle" font-weight="bold">Ic</text><text x="549" y="2.7">Imum Coeli</text><text class="g" x="663" y="2.7" text-anchor="middle" fill="#00b8c8">♒</text><text x="686" y="2.7" text-anchor="middle">4</text><text x="736" y="2.7" text-anchor="middle">-</text><text x="775" y="2.7" fill="#00b8c8">17°♒05</text><text x="907" y="2.7" text-anchor="middle">-</text><text x="981" y="2.7" text-anchor="middle">-15°42'</text></g>
<g transform="translate(0,549)"><text class="g" x="523" y="3" text-anchor="middle" font-weight="bold">♀</text><text x="549" y="2.7">Eris</text><text class="g" x="663" y="2.7" text-anchor="middle" fill="#e00000">♈</text><text x="686" y="2.7" text-anchor="middle">6</text><text x="736" y="2.7" text-anchor="middle">-</text><text x="775" y="2.7" fill="#c00000">25°♈04 ℞</text><text x="907" y="2.7" text-anchor="middle">+75 days</text><text x="981" y="2.7" text-anchor="middle">-00°16'</text></g>
</g>

<!-- ================= WHEEL ================= -->
<g fill="none" stroke="#444" stroke-width="1">
<circle cx="229" cy="320" r="148"/>
<circle cx="229" cy="320" r="133"/>
<circle cx="229" cy="320" r="74"/>
<circle cx="229" cy="320" r="62"/>
</g>
<g stroke="#333" stroke-width="1">
<line x1="167" y1="320" x2="96" y2="320"/>
<line x1="174.6" y1="349.7" x2="112.2" y2="383.7"/>
<line x1="200.7" y1="375.2" x2="168.3" y2="438.3"/>
<line x1="239.6" y1="381.1" x2="251.8" y2="451"/>
<line x1="271.1" y1="365.5" x2="319.4" y2="417.6"/>
<line x1="287" y1="342" x2="353.3" y2="367.2"/>
<line x1="291" y1="320" x2="362" y2="320"/>
<line x1="283.4" y1="290.3" x2="345.8" y2="256.3"/>
<line x1="257.3" y1="264.8" x2="289.7" y2="201.7"/>
<line x1="218.4" y1="258.9" x2="207" y2="193.5"/>
<line x1="186.9" y1="274.5" x2="138.6" y2="222.4"/>
<line x1="171" y1="298" x2="104.7" y2="272.8"/>
</g>
<polygon points="206.2,188.9 209.7,195.4 204.4,196.2" fill="#000"/>

<g font-size="6.5" fill="#777" text-anchor="middle" dominant-baseline="central">
<text x="163.6" y="336.7">1</text><text x="181.9" y="368.3">2</text><text x="218.8" y="386.7">3</text>
<text x="258.9" y="380.5">4</text><text x="285" y="357.7">5</text><text x="295.4" y="332.2">6</text>
<text x="294.4" y="303.3">7</text><text x="276.1" y="271.7">8</text><text x="239.2" y="253.3">9</text>
<text x="199.1" y="259.5">10</text><text x="173" y="282.3">11</text><text x="162.6" y="307.8">12</text>
</g>

<g font-size="6.5" fill="#222" text-anchor="middle" dominant-baseline="central">
<text x="88.6" y="306.5">07°</text><text x="88.6" y="333.5">14'</text>
<text x="99.3" y="375.3">05°</text><text x="112.2" y="399">50'</text>
<text x="152.9" y="438.7">10°</text><text x="177" y="451.1">05'</text>
<text x="239.7" y="460.6">17°</text><text x="266.3" y="456">05'</text>
<text x="314.4" y="432.2">20°</text><text x="334.3" y="413.8">04'</text>
<text x="355.4" y="382.5">16°</text><text x="365" y="357.2">24'</text>
<text x="369.4" y="306.5">07°</text><text x="369.4" y="333.5">14'</text>
<text x="345.8" y="241">05°</text><text x="358.7" y="264.7">50'</text>
<text x="281" y="188.9">10°</text><text x="305.1" y="201.3">05'</text>
<text x="191.7" y="184">17°</text><text x="218.3" y="179.4">05'</text>
<text x="123.7" y="226.2">20°</text><text x="143.6" y="207.8">04'</text>
<text x="93" y="282.8">16°</text><text x="102.6" y="257.5">24'</text>
</g>
<g class="g" font-size="9.5" text-anchor="middle" dominant-baseline="central">
<text x="88" y="320" fill="#0000c0">♏</text>
<text x="105.2" y="387.5" fill="#e00000">♐</text>
<text x="164.7" y="445.5" fill="#00c000">♑</text>
<text x="253.1" y="458.9" fill="#00b8c8">♒</text>
<text x="324.8" y="423.5" fill="#0000c0">♓</text>
<text x="360.8" y="370.1" fill="#e00000">♈</text>
<text x="370" y="320" fill="#00c000">♉</text>
<text x="352.8" y="252.5" fill="#00b8c8">♊</text>
<text x="293.3" y="194.5" fill="#0000c0">♋</text>
<text x="204.9" y="181.1" fill="#e00000">♌</text>
<text x="133.2" y="216.5" fill="#00c000">♍</text>
<text x="97.2" y="269.9" fill="#00b8c8">♎</text>
</g>

<g fill="none">
<path stroke="#ff2020" stroke-width="1.1" d="M242.3 259.5L214.1 380.2M242.3 259.5L222.7 381.7M242.3 259.5L170.3 299.9M242.3 259.5L289.4 333.8M242.3 259.5L289.6 333.1M286 295.6L171.5 343.1M286 295.6L170 339M286 295.6L175.9 352.1M167 318.1L222.7 381.7M167 318.1L230 382M167 322.2L230 382M167 322.2L222.7 381.7M170.3 299.9L214.1 380.2M170.3 299.9L289.4 333.8M170.3 299.9L289.6 333.1M214.1 380.2L289.4 333.8M214.1 380.2L289.6 333.1M222.7 381.7L291 321.9M222.7 381.7L167 320M222.7 381.7L289.4 333.8M230 382L291 321.9M230 382L167 320M230 382L291 320M230 382L218.4 258.9M275.6 360.9L184.2 362.9M278.3 357.7L184.2 362.9M184.2 362.9L190.5 271.4M184.2 362.9L267.5 368.6M175.9 352.1L190.5 271.4M175.9 352.1L267.5 368.6M275.6 360.9L190.5 271.4"/>
<path stroke="#ff1010" stroke-width="2.4" d="M167 318.1L291 321.9M167 318.1L291 320M167 322.2L291 321.9M286 295.6L169.6 337.9"/>
<path stroke="#2020ff" stroke-width="1.1" d="M242.3 259.5L171.5 343.1M242.3 259.5L170 339M242.3 259.5L169.6 337.9M242.3 259.5L275.6 360.9M242.3 259.5L278.3 357.7M242.3 259.5L286 295.6M286 295.6L214.1 380.2M286 295.6L222.7 381.7M286 295.6L275.6 360.9M286 295.6L278.3 357.7M286 295.6L281.1 353.6M171.5 343.1L214.1 380.2M171.5 343.1L222.7 381.7M171.5 343.1L275.6 360.9M171.5 343.1L281.1 353.6M170 339L214.1 380.2M170 339L222.7 381.7M170 339L278.3 357.7M169.6 337.9L278.3 357.7M170.3 299.9L239.6 381.1M170.3 299.9L218.4 258.9M170.3 299.9L184.2 362.9M214.1 380.2L275.6 360.9M222.7 381.7L278.3 357.7M222.7 381.7L281.1 353.6M230 382L281.1 353.6M289.4 333.8L184.2 362.9M289.6 333.1L184.2 362.9M281.1 353.6L175.9 352.1M184.2 362.9L218.4 258.9"/>
<path stroke="#1010ff" stroke-width="2.4" d="M171.5 343.1L278.3 357.7M170 339L275.6 360.9M169.6 337.9L275.6 360.9"/>
<path stroke="#00a000" stroke-width="0.9" stroke-dasharray="3,2" d="M242.3 259.5L184.2 362.9M167 318.1L281.1 353.6M170 339L289.6 333.1M286 295.6L167 318.1M207 335L262 335"/>
</g>
<g class="g" font-size="6" text-anchor="middle" dominant-baseline="central">
<text x="265" y="295" fill="#e00000">□</text>
<text x="248" y="305" fill="#e00000">□</text>
<text x="258" y="308" fill="#0000e0">△</text>
<text x="207" y="300" fill="#0000e0">△</text>
<text x="211" y="305" fill="#e00000">□</text>
<text x="228" y="318" fill="#e00000" font-size="7">☍</text>
<text x="223" y="347" fill="#0000e0" font-size="7">△</text>
<text x="243" y="349" fill="#0000e0">△</text>
<text x="198" y="353" fill="#0000e0">△</text>
<text x="205" y="331" fill="#e00000">□</text>
<text x="249" y="355" fill="#e00000">□</text>
</g>

<g class="g" font-size="10.5" font-weight="bold" text-anchor="middle" dominant-baseline="central">
<text x="106" y="312" fill="#a8a000">☉</text>
<text x="106" y="327" fill="#e00000">↓</text>
<text x="110" y="347" fill="#000">⚸</text>
<text x="113" y="360" fill="#e00000">♂</text>
<text x="118" y="373" fill="#8000c0">☿</text>
<text x="125" y="385" fill="#000">⚵</text>
<text x="141" y="403" fill="#000">⚶</text>
<text x="153" y="221" fill="#000">☋</text>
<text x="112" y="281" fill="#008080">♀</text>
<text x="253" y="198" fill="#888">♃</text>
<text x="341" y="270" fill="#0000a0">♅</text>
<text x="353" y="325" fill="#008000">⊕</text>
<text x="350" y="337" fill="#000">♀</text>
<text x="349" y="350" fill="#008000">⚷</text>
<text x="337" y="378" fill="#000">⚳</text>
<text x="330" y="390" fill="#008080">♆</text>
<text x="322" y="401" fill="#800000">♄</text>
<text x="305" y="418" fill="#000">☊</text>
<text x="200" y="439" fill="#a8a000">☽</text>
<text x="217" y="440" fill="#800000">♇</text>
<text x="231" y="441" fill="#000">⚴</text>
</g>
<g font-size="6.3" fill="#222" text-anchor="middle" dominant-baseline="central">
<text x="120" y="313">05°</text><text x="140" y="315">26'</text>
<text x="120" y="324">09°</text><text x="140" y="324">17'</text>
<text x="123" y="345">24°</text><text x="143" y="339">02'</text>
<text x="124" y="355">25°</text><text x="145" y="348">04'</text>
<text x="130" y="366">29°</text><text x="149" y="357">08'</text>
<text x="137" y="376">08°</text><text x="154" y="366">22'</text>
<text x="151" y="394">20°</text><text x="164" y="381">59'</text>
<text x="162" y="233">15°</text><text x="174" y="248">34'</text>
<text x="125" y="286">18°</text><text x="144" y="294">20'</text>
<text x="253" y="212">24°</text><text x="250" y="231">49'</text>
<text x="330" y="276">00°</text><text x="311" y="284">24'</text>
<text x="339" y="324">05°</text><text x="318" y="324">26'</text>
<text x="338" y="336">25°</text><text x="318" y="333">04'</text>
<text x="338" y="347">24°</text><text x="318" y="343">22'</text>
<text x="324" y="372">04°</text><text x="308" y="363">23'</text>
<text x="318" y="382">29°</text><text x="302" y="371">51'</text>
<text x="311" y="391">25°</text><text x="297" y="378">57'</text>
<text x="297" y="403">15°</text><text x="285" y="390">34'</text>
<text x="203" y="425">23°</text><text x="208" y="407">19'</text>
<text x="218" y="427">01°</text><text x="220" y="408">25'</text>
<text x="232" y="428">08°</text><text x="232" y="409">12'</text>
</g>
<g class="g" font-size="7" text-anchor="middle" dominant-baseline="central">
<text x="129.5" y="314" fill="#0000c0">♏</text>
<text x="129.5" y="324" fill="#0000c0">♏</text>
<text x="133" y="342" fill="#0000c0">♏</text>
<text x="134.5" y="352" fill="#0000c0">♏</text>
<text x="139" y="362" fill="#0000c0">♏</text>
<text x="145" y="371" fill="#e00000">♐</text>
<text x="157" y="387" fill="#e00000">♐</text>
<text x="167" y="241" fill="#00c000">♍</text>
<text x="134" y="290" fill="#00b8c8">♎</text>
<text x="251" y="222" fill="#0000c0">♋</text>
<text x="321" y="280" fill="#00b8c8">♊</text>
<text x="328" y="324" fill="#00c000">♉</text>
<text x="328" y="334" fill="#e00000">♈</text>
<text x="328" y="345" fill="#e00000">♈</text>
<text x="316" y="367" fill="#e00000">♈</text>
<text x="311" y="376" fill="#0000c0">♓</text>
<text x="303" y="384" fill="#0000c0">♓</text>
<text x="291" y="397" fill="#0000c0">♓</text>
<text x="206" y="417" fill="#00c000">♑</text>
<text x="219" y="418" fill="#00b8c8">♒</text>
<text x="231" y="418" fill="#00b8c8">♒</text>
</g>
<g font-size="6.3" fill="#e00000" text-anchor="middle" dominant-baseline="central">
<text x="179" y="255">R</text>
<text x="303" y="287">R</text>
<text x="309" y="332">R</text>
<text x="309" y="341">R</text>
<text x="300" y="357">R</text>
<text x="295" y="366">R</text>
<text x="289" y="373">R</text>
<text x="280" y="384">R</text>
</g>
</svg>
</body></html>
